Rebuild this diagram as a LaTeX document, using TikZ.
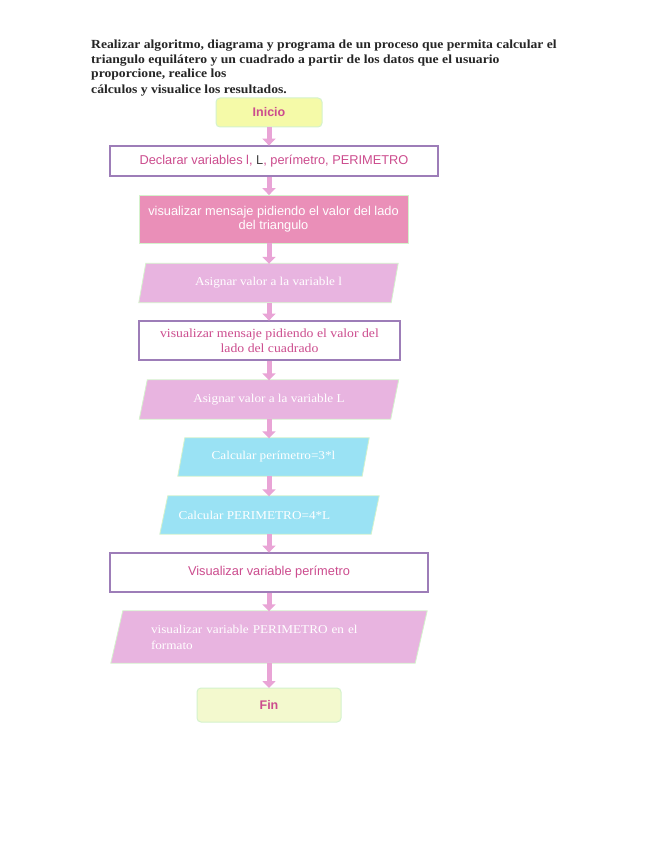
\documentclass[tikz,border=0pt]{standalone}
\usepackage{fontspec}
\setmainfont{Liberation Serif}
\setsansfont{Liberation Sans}
\newfontfamily\wideserif{Liberation Serif}[FakeStretch=1.1]
\usetikzlibrary{arrows.meta,backgrounds,calc}
\definecolor{inifill}{HTML}{F5FAA8}
\definecolor{finfill}{HTML}{F3F9CE}
\definecolor{softgreen}{HTML}{D4F2CC}
\definecolor{rosefill}{HTML}{EA8FB8}
\definecolor{orchid}{HTML}{E8B4E0}
\definecolor{skyfill}{HTML}{9AE2F4}
\definecolor{lilac}{HTML}{9D7DB8}
\definecolor{pinktext}{HTML}{CC4C8E}
\definecolor{arrowpink}{HTML}{E9A4D6}
\tikzset{
  title/.style={anchor=base west, inner sep=0pt, font=\wideserif\fontsize{12.4}{14}\selectfont\bfseries, text=black!85},
  termbox/.style={rounded corners=4pt, draw=softgreen, line width=1pt, text=pinktext, font=\sffamily\bfseries\fontsize{12.5}{14}\selectfont},
  outbox/.style={draw=lilac, line width=1.8pt, fill=white, text=pinktext, align=center},
  rosebox/.style={draw=softgreen, line width=0.8pt, fill=rosefill, text=white, align=center, font=\sffamily\fontsize{12.8}{14.5}\selectfont},
  parabox/.style={inner sep=0pt, text=white, font=\wideserif\fontsize{12}{16}\selectfont},
  paraedge/.style={draw=softgreen, line width=0.8pt},
  flowarrow/.style={draw=arrowpink, line width=5pt, -{Triangle[width=13pt,length=7pt]}, shorten >=-0.5pt},
}
\begin{document}
\begin{tikzpicture}[x=1pt,y=-1pt]
\useasboundingbox (0,0) rectangle (655,848);

\node[title] (t1) at (91,49) {Realizar algoritmo, diagrama y programa de un proceso que permita calcular el};
\node[title] (t2) at (91,64) {triangulo equilátero y un cuadrado a partir de los datos que el usuario};
\node[title] (t3) at (91,78) {proporcione, realice los};
\node[title] (t4) at (91,94) {cálculos y visualice los resultados.};

\coordinate (axis) at (269,0);

\node[termbox, fill=inifill, minimum width=106pt, minimum height=29pt] (inicio) at (269,112.5) {Inicio};

\node[outbox, minimum width=328pt, minimum height=30pt, font=\sffamily\fontsize{12.8}{14}\selectfont] (declarar) at (274,161)
  {Declarar variables l, \textcolor{black!75}{L}, perímetro, PERIMETRO};

\node[rosebox, minimum width=269pt, minimum height=48pt] (vistri) at (273.5,219)
  {visualizar mensaje pidiendo el valor del lado\\del triangulo};

\node[parabox, minimum width=259pt, minimum height=39pt] (asigl) at (268.5,283) {Asignar valor a la variable l};

\node[outbox, minimum width=261pt, minimum height=39pt, font=\wideserif\fontsize{12.5}{15}\selectfont] (viscuad) at (269.5,340.5)
  {visualizar mensaje pidiendo el valor del\\lado del cuadrado};

\node[parabox, minimum width=259pt, minimum height=39pt] (asigL) at (269,399.5) {Asignar valor a la variable L};

\node[parabox, minimum width=191pt, minimum height=38pt] (calc1) at (273.5,457) {Calcular perímetro=3*l};

\node[parabox, minimum width=219pt, minimum height=38pt] (calc2) at (269.5,515) {\hspace*{-30pt}Calcular PERIMETRO=4*L};

\node[outbox, minimum width=318pt, minimum height=39pt, font=\sffamily\fontsize{12.8}{14}\selectfont] (visper) at (269,572.5)
  {Visualizar variable perímetro};

\node[parabox, minimum width=316pt, minimum height=52pt, align=left, text width=290pt] (visPER) at (269,637)
  {\hspace*{27pt}visualizar variable PERIMETRO en el\\\hspace*{27pt}formato};

\node[termbox, fill=finfill, minimum width=144pt, minimum height=34pt] (fin) at (269,705) {Fin};

\begin{scope}[on background layer]
  \fill[white] (0,0) rectangle (655,848);
  \foreach \n/\o/\c in {asigl/7/orchid, asigL/8/orchid, calc1/7/skyfill, calc2/8/skyfill, visPER/12/orchid}{
    \filldraw[paraedge, fill=\c] ($(\n.north west)+(\o,0)$) -- (\n.north east) -- ($(\n.south east)-(\o,0)$) -- (\n.south west) -- cycle;
  }
\end{scope}

\foreach \a/\b in {inicio/declarar, declarar/vistri, vistri/asigl, asigl/viscuad, viscuad/asigL, asigL/calc1, calc1/calc2, calc2/visper, visper/visPER, visPER/fin}{
  \draw[flowarrow] (\a.south -| axis) -- (\b.north -| axis);
}
\end{tikzpicture}
\end{document}
